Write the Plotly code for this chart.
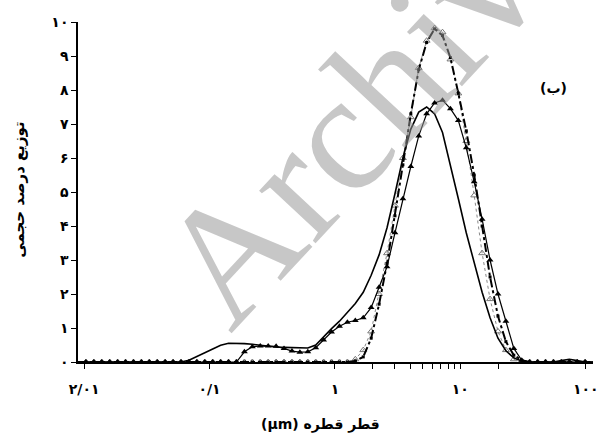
import plotly.graph_objects as go

# droplet diameter (um), log-spaced bins
diam = [0.00893, 0.01033, 0.01195, 0.01382, 0.01599, 0.01849, 0.02139, 0.02474, 0.02862, 0.03309,
        0.03828, 0.04427, 0.05121, 0.05923, 0.06851, 0.07924, 0.09165, 0.1060, 0.1226, 0.1418,
        0.1640, 0.1897, 0.2194, 0.2538, 0.2936, 0.3395, 0.3927, 0.4542, 0.5254, 0.6077,
        0.7029, 0.8128, 0.9399, 1.087, 1.257, 1.454, 1.682, 1.945, 2.250, 2.603,
        3.011, 3.483, 4.029, 4.659, 5.389, 6.232, 7.209, 8.337, 9.643, 11.15,
        12.90, 14.92, 17.26, 19.96, 23.09, 26.71, 30.89, 35.73, 41.32, 47.79,
        55.28, 63.94, 73.95, 85.53, 98.93, 114.4]

# volume % – solid line
vol_solid = [0, 0, 0, 0, 0, 0, 0, 0, 0, 0,
             0, 0, 0, 0, 0.05, 0.15, 0.27, 0.38, 0.49, 0.55,
             0.55, 0.54, 0.52, 0.49, 0.46, 0.44, 0.43, 0.42, 0.41, 0.41,
             0.5, 0.75, 0.98, 1.2, 1.45, 1.72, 2.05, 2.55, 3.15, 3.95,
             4.95, 6.0, 6.85, 7.35, 7.5, 7.3, 6.75, 5.8, 4.8, 3.8,
             2.9, 2.05, 1.3, 0.7, 0.33, 0.12, 0.03, 0, 0, 0,
             0, 0.04, 0.08, 0.04, 0, 0]

# volume % – filled triangles
vol_filled_tri = [0, 0, 0, 0, 0, 0, 0, 0, 0, 0,
                  0, 0, 0, 0, 0, 0, 0, 0, 0, 0,
                  0, 0.3, 0.45, 0.47, 0.47, 0.46, 0.4, 0.32, 0.29, 0.3,
                  0.42, 0.65, 0.88, 1.05, 1.17, 1.22, 1.3, 1.6, 2.2, 2.8,
                  3.8, 4.8, 5.75, 6.65, 7.3, 7.62, 7.7, 7.45, 7.1, 6.3,
                  5.3, 4.2, 3.0, 2.0, 1.2, 0.4, 0.05, 0, 0, 0,
                  0, 0, 0, 0, 0, 0]

# volume % – open triangles
vol_open_tri = [0, 0, 0, 0, 0, 0, 0, 0, 0, 0,
                0, 0, 0, 0, 0, 0, 0, 0, 0, 0,
                0, 0, 0, 0, 0, 0, 0, 0, 0, 0,
                0, 0, 0, 0, 0, 0.08, 0.35, 0.9, 2.0, 3.2,
                4.6, 6.0, 7.2, 8.65, 9.45, 9.82, 9.7, 8.9, 7.9, 6.5,
                4.9, 3.2, 1.85, 0.9, 0.35, 0.08, 0, 0, 0, 0,
                0, 0, 0, 0, 0, 0]

# volume % – dash-dot with small squares
vol_square = [0, 0, 0, 0, 0, 0, 0, 0, 0, 0,
              0, 0, 0, 0, 0, 0, 0, 0, 0, 0,
              0, 0, 0, 0, 0, 0, 0, 0, 0, 0,
              0, 0, 0, 0, 0, 0.03, 0.15, 0.7, 1.7, 2.9,
              4.3, 5.8, 7.3, 8.6, 9.4, 9.8, 9.6, 8.95, 7.9, 6.8,
              5.5, 4.0, 2.5, 1.35, 0.6, 0.2, 0.05, 0, 0, 0,
              0, 0, 0, 0, 0, 0]

x_tickvals = [0.01, 0.1, 1, 10, 100]
x_ticktext = ["۲/۰۱", "۰/۱", "۱", "۱۰", "۱۰۰"]
x_minor = [2, 3, 4, 5, 6, 7, 8, 9, 20]
y_tickvals = [0, 1, 2, 3, 4, 5, 6, 7, 8, 9, 10]
y_ticktext = ["۰", "۱", "۲", "۳", "۴", "۵", "۶", "۷", "۸", "۹", "۱۰"]

FONT = "DejaVu Sans"

fig = go.Figure()
fig.add_trace(go.Scatter(
    x=diam, y=vol_open_tri, mode="lines+markers", cliponaxis=False,
    line=dict(color="#888888", width=1, dash="dot"),
    marker=dict(symbol="triangle-up-open", size=6, color="#777777", line=dict(width=1))))
fig.add_trace(go.Scatter(
    x=diam, y=vol_square, mode="lines+markers", cliponaxis=False,
    line=dict(color="black", width=2, dash="dashdot"),
    marker=dict(symbol="square", size=3, color="black")))
fig.add_trace(go.Scatter(
    x=diam, y=vol_solid, mode="lines", cliponaxis=False,
    line=dict(color="black", width=1.6)))
fig.add_trace(go.Scatter(
    x=diam, y=vol_filled_tri, mode="lines+markers", cliponaxis=False,
    line=dict(color="black", width=1.2),
    marker=dict(symbol="triangle-up", size=6, color="black")))

fig.update_layout(
    width=598, height=437,
    margin=dict(l=78, r=0, t=22, b=75),
    paper_bgcolor="white", plot_bgcolor="white",
    showlegend=False,
    font=dict(family=FONT, color="black", size=13),
)
fig.update_xaxes(
    type="log", range=[-2.049, 2.058],
    showgrid=False, zeroline=False,
    showline=True, linecolor="black", linewidth=1.5,
    tickmode="array", tickvals=x_tickvals, ticktext=x_ticktext,
    ticks="outside", ticklen=5, tickcolor="black",
    ticklabelstandoff=8, ticklabeloverflow="allow",
    tickfont=dict(family=FONT, size=14, weight="bold"),
    minor=dict(tickmode="array", tickvals=x_minor, ticks="outside", ticklen=5, tickcolor="black"),
)
fig.update_yaxes(
    range=[0, 10],
    showgrid=False, zeroline=False,
    showline=True, linecolor="black", linewidth=1.5,
    tickmode="array", tickvals=y_tickvals, ticktext=y_ticktext,
    ticks="outside", ticklen=5, tickcolor="black",
    tickfont=dict(family=FONT, size=14, weight="bold"),
)

# watermark
fig.add_annotation(
    text="Archive", xref="paper", yref="paper", x=0.573, y=0.776,
    xanchor="center", yanchor="middle",
    showarrow=False, textangle=-47,
    font=dict(family="Liberation Serif", size=168, color="rgba(150,150,150,0.53)"),
)
fig.add_annotation(
    text="<b>(ب)</b>", xref="paper", yref="paper", x=0.923, y=0.806,
    xanchor="center", yanchor="middle",
    showarrow=False, font=dict(family=FONT, size=14),
)
fig.add_annotation(
    text="<b>توزیع درصد حجمی</b>", xref="paper", yref="paper", x=-0.115, y=0.506,
    xanchor="center", yanchor="middle",
    showarrow=False, textangle=-90, font=dict(family=FONT, size=15),
)
fig.add_annotation(
    text="<b>(μm) قطر قطره</b>", xref="paper", yref="paper", x=0.471, y=-0.185,
    xanchor="center", yanchor="middle",
    showarrow=False, font=dict(family=FONT, size=14),
)

fig.write_html("out.html")
